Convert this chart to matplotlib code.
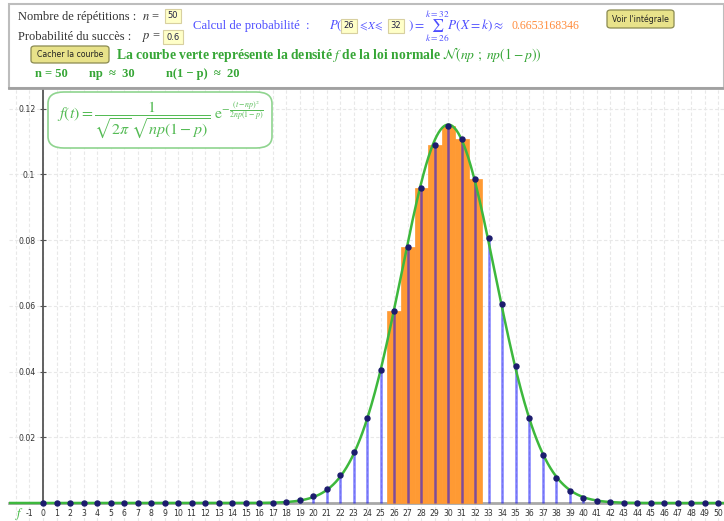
import numpy as np
import matplotlib
matplotlib.use("Agg")
import matplotlib.pyplot as plt
from matplotlib.patches import FancyBboxPatch, Rectangle
from matplotlib.lines import Line2D

plt.rcParams['mathtext.fontset'] = 'stix'

# ---- data ----
n = 50
p = 0.6
k_lo, k_hi = 26, 32
prob_result = "0.6653168346"
k_values = list(range(0, 51))
probs = [0.0] * 16 + [
    0.00004, 0.00012, 0.00034, 0.00086, 0.0020, 0.0043, 0.0084, 0.0154,
    0.0259, 0.0405, 0.0584, 0.0778, 0.0959, 0.1091, 0.1146, 0.1109,
    0.0987, 0.0808, 0.0606, 0.0416, 0.0260, 0.0147, 0.0076, 0.0035,
    0.0014, 0.0005, 0.00017, 0.00005, 0.00001, 0.0, 0.0, 0.0, 0.0, 0.0, 0.0]
x_ticks = list(range(-1, 51))
y_ticks = [0.02, 0.04, 0.06, 0.08, 0.1, 0.12]
y_tick_labels = ["0.02", "0.04", "0.06", "0.08", "0.1", "0.12"]

W, H = 724, 521
fig = plt.figure(figsize=(W / 100, H / 100), dpi=100)
fig.patch.set_facecolor('white')


def P(x, y):
    return (x / W, 1 - y / H)


# ---- graph axes ----
top_px = 89
ax = fig.add_axes([9 / W, 0, (W - 9) / W, (H - top_px) / H])
x0 = -2.517
x1 = 50.41
ax.set_xlim(x0, x1)
ax.set_ylim(-0.00548, 0.126)
ax.set_facecolor('white')

# grid
for xv in range(-2, 51):
    ax.axvline(xv, color='#e8e8e8', lw=0.8, ls=(0, (3, 2)), zorder=0)
for yv in y_ticks:
    ax.axhline(yv, color='#e8e8e8', lw=0.8, ls=(0, (3, 2)), zorder=0)

k_arr = np.array(k_values)
pr = np.array(probs)

# orange bars for selected interval
sel = [(k, v) for k, v in zip(k_values, probs) if k_lo <= k <= k_hi]
ax.bar([s[0] for s in sel], [s[1] for s in sel], width=1.0,
       color='#ff9a33', edgecolor='#ff9a33', lw=0.5, zorder=2)

# stems
ax.vlines(k_arr, 0, pr, colors=(0, 0, 1, 0.5), lw=1.8, zorder=3)

# normal density curve
t = np.linspace(x0, x1, 800)
mu = n * p
var = n * p * (1 - p)
f = np.exp(-(t - mu) ** 2 / (2 * var)) / (np.sqrt(2 * np.pi) * np.sqrt(var))
ax.plot(t, f, color='#3db83d', lw=1.8, zorder=4)

# points
ax.plot(k_arr, pr, 'o', color='#1c1c6e', ms=3.6, zorder=5)

# axes
for s in ['top', 'right']:
    ax.spines[s].set_visible(False)
ax.spines['left'].set_position(('data', 0))
ax.spines['bottom'].set_position(('data', 0))
ax.spines['left'].set_color('#555555')
ax.spines['left'].set_linewidth(1.3)
ax.spines['left'].set_bounds(0, 0.126)
ax.spines['bottom'].set_color('#a8a8a8')
ax.spines['bottom'].set_linewidth(2.0)
ax.spines['bottom'].set_zorder(1)
ax.spines['left'].set_zorder(1)

ax.set_xticks(x_ticks)
ax.set_xticklabels([str(v) for v in x_ticks], fontsize=5.6, color='#333333',
                   family='DejaVu Sans')
ax.set_yticks(y_ticks)
ax.set_yticklabels(y_tick_labels, fontsize=5.6, color='#333333',
                   family='DejaVu Sans')
ax.tick_params(axis='x', length=0, pad=4)
ax.tick_params(axis='y', direction='inout', length=5, width=0.8,
               color='#555555', pad=3)

# curve label
ax.text(-2.1, -0.0035, r'$f$', color='#3db83d', fontsize=9, va='center')

# formula box
fb_x0, fb_y0, fb_x1, fb_y1 = 48, 92, 272, 148
box = FancyBboxPatch(P(fb_x0, fb_y1), (fb_x1 - fb_x0) / W, (fb_y1 - fb_y0) / H,
                     boxstyle='round,pad=0,rounding_size=0.022',
                     transform=fig.transFigure, facecolor='white',
                     edgecolor='#8fd48f', lw=1.2, zorder=10)
fig.add_artist(box)
fig.text(*P(160, 120),
         r'$f(t) = \dfrac{1}{\sqrt{2\pi}\,\sqrt{np(1-p)}}\ \mathrm{e}^{-\frac{(t-np)^2}{2np(1-p)}}$',
         color='#55bb55', fontsize=11.5, ha='center', va='center', zorder=11)

# ---- top panel ----
fig.add_artist(Rectangle(P(9, 88), (W - 9) / W, 84 / H, transform=fig.transFigure,
                         facecolor='white', edgecolor='#bdbdbd', lw=1.5, zorder=0))
fig.add_artist(Line2D([9 / W, 1], [1 - 88 / H] * 2, transform=fig.transFigure,
                      color='#a0a0a0', lw=2))

serif = 'Liberation Serif'
dark = '#333333'
fig.text(*P(18, 17), 'Nombre de répétitions :', fontsize=9,
         family=serif, color=dark, va='center')
fig.text(*P(142, 17), r'$n$ =', fontsize=9, family=serif, color=dark, va='center')
fig.text(*P(18, 37), 'Probabilité du succès :', fontsize=9,
         family=serif, color=dark, va='center')
fig.text(*P(142, 37), r'$p$ =', fontsize=9, family=serif, color=dark, va='center')


def inbox(x, y, s):
    fig.text(*P(x, y), s, fontsize=6, family='DejaVu Sans', color='#222244',
             ha='center', va='center',
             bbox=dict(boxstyle='square,pad=0.35', fc='#ffffc8', ec='#d8d0a0', lw=0.8))


inbox(173, 16, str(n))
inbox(173, 37, str(p))

blue = '#4d4dff'
fig.text(*P(193, 26), 'Calcul de probabilité', fontsize=9.2,
         family=serif, color=blue, va='center')
fig.text(*P(306, 26), ':', fontsize=9.2, family=serif, color=blue, va='center')
fig.text(*P(329, 26), r'$P($', fontsize=9.2, color=blue, va='center')
inbox(349, 26, str(k_lo))
fig.text(*P(358, 26), r'$\leqslant\! X\! \leqslant$', fontsize=8, color=blue, va='center')
inbox(396, 26, str(k_hi))
fig.text(*P(408, 26), r'$) = \sum_{k=26}^{k=32} P(X = k) \approx$', fontsize=9.5,
         color=blue, va='center')
fig.text(*P(512, 26), prob_result, fontsize=8.5, family=serif,
         color='#ff8c3c', va='center')

# buttons
def button(x0b, y0b, x1b, y1b, s):
    b = FancyBboxPatch(P(x0b, y1b), (x1b - x0b) / W, (y1b - y0b) / H,
                       boxstyle='round,pad=0,rounding_size=0.005',
                       transform=fig.transFigure, facecolor='#e8e28a',
                       edgecolor='#8a8a50', lw=0.9)
    fig.add_artist(b)
    fig.text(*P((x0b + x1b) / 2, (y0b + y1b) / 2), s, fontsize=5.6,
             family='DejaVu Sans', color='#222222', ha='center', va='center')


button(607, 10, 674, 28, "Voir l'intégrale")
button(31, 46, 109, 63, "Cacher la courbe")

green = '#36a636'
fig.text(*P(116, 54),
         r'La courbe verte représente la densité $f$ de la loi normale $\mathcal{N}(np\ ;\ np(1-p))$',
         fontsize=9.8, family=serif, weight='bold', color=green, va='center')
fig.text(*P(35, 74), 'n = 50', fontsize=9, family=serif, weight='bold',
         color=green, va='center')
fig.text(*P(89, 74), 'np  ≈  30', fontsize=9, family=serif, weight='bold',
         color=green, va='center')
fig.text(*P(166, 74), 'n(1 − p)  ≈  20', fontsize=9, family=serif, weight='bold',
         color=green, va='center')

fig.savefig('out.png', dpi=100)
